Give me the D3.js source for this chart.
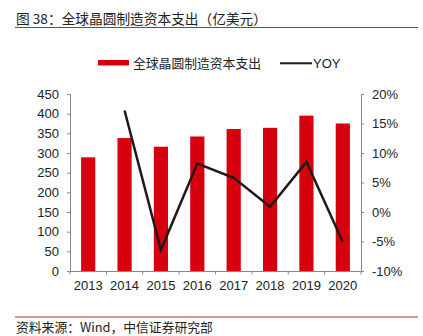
<!DOCTYPE html>
<html><head><meta charset="utf-8">
<script src="https://cdn.jsdelivr.net/npm/d3@7"></script>
<style>
html,body{margin:0;padding:0;background:#fff;}
svg text{font-family:"Liberation Sans","Noto Sans CJK SC",Arial,sans-serif;}
</style></head>
<body><svg id="c" width="423" height="336"></svg>
<script>
const years = ["2013","2014","2015","2016","2017","2018","2019","2020"];
const capex = [289, 338, 316, 342, 361, 364, 395, 375];
const yoy = [null, 17.2, -6.4, 8.2, 5.8, 0.9, 8.5, -5.1];
const leftTicks = [0,50,100,150,200,250,300,350,400,450];
const rightTicks = [-10,-5,0,5,10,15,20];

const svg = d3.select("#c");
const red = "#d7000f", dark = "#231815", cjk = '"Noto Sans CJK SC","Liberation Sans",sans-serif';

const x = d3.scaleBand().domain(years).range([70,361]).paddingInner(0.61).paddingOuter(0.305);
const xb = d3.scaleBand().domain(years).range([70,361]);
const yL = d3.scaleLinear().domain([0,450]).range([271,94]);
const yR = d3.scaleLinear().domain([-10,20]).range([271,94]);

// title
svg.append("text").attr("x",16).attr("y",24).attr("font-size",13.7).attr("fill","#222")
  .style("font-family",cjk).text("图 38：全球晶圆制造资本支出（亿美元）");
svg.append("line").attr("x1",15).attr("x2",418).attr("y1",27.5).attr("y2",27.5).attr("stroke","#c0282d").attr("stroke-width",1);

// legend
svg.append("rect").attr("x",98).attr("y",60).attr("width",31).attr("height",5.5).attr("fill",red);
svg.append("text").attr("x",133).attr("y",67.5).attr("font-size",12.8).attr("fill","#222").style("font-family",cjk).text("全球晶圆制造资本支出");
svg.append("line").attr("x1",280).attr("x2",312).attr("y1",63.3).attr("y2",63.3).attr("stroke",dark).attr("stroke-width",2);
svg.append("text").attr("x",313).attr("y",68).attr("font-size",13).attr("fill","#222").text("YOY");

// bars
svg.append("g").selectAll("rect").data(years).join("rect")
  .attr("x",d=>x(d)).attr("width",x.bandwidth())
  .attr("y",(d,i)=>yL(capex[i])).attr("height",(d,i)=>yL(0)-yL(capex[i]))
  .attr("fill",red);

// axes
const axL = svg.append("g").attr("transform","translate(70,0)")
  .call(d3.axisLeft(yL).tickValues(leftTicks).tickSize(3).tickPadding(8));
const axR = svg.append("g").attr("transform","translate(361,0)")
  .call(d3.axisRight(yR).tickValues(rightTicks).tickSize(3).tickPadding(8).tickFormat(d=>d+"%"));
const axB = svg.append("g").attr("transform","translate(0,271)")
  .call(d3.axisBottom(xb).tickSize(0).tickPadding(10));
// boundary ticks
svg.append("g").selectAll("line").data(years.concat(["end"])).join("line")
  .attr("x1",(d,i)=>70+i*xb.bandwidth()).attr("x2",(d,i)=>70+i*xb.bandwidth())
  .attr("y1",271).attr("y2",274.5).attr("stroke","#888");
[axL,axR,axB].forEach(a=>{
  a.selectAll("path.domain").attr("stroke","#888");
  a.selectAll(".tick line").attr("stroke","#888");
  a.selectAll("text").attr("font-size",13).attr("fill","#222").style("font-family",'"Liberation Sans",Arial,sans-serif');
});
axB.select("path.domain").attr("d","M70,0.5H361");

// line
const pts = years.map((d,i)=>({d,v:yoy[i]})).filter(p=>p.v!==null);
svg.append("path").datum(pts)
  .attr("d",d3.line().x(p=>xb(p.d)+xb.bandwidth()/2).y(p=>yR(p.v)))
  .attr("fill","none").attr("stroke",dark).attr("stroke-width",2.5);

// footer
svg.append("line").attr("x1",15).attr("x2",418).attr("y1",317).attr("y2",317).attr("stroke","#c0282d").attr("stroke-width",1);
svg.append("text").attr("x",16).attr("y",332).attr("font-size",12.8).attr("fill","#222").style("font-family",cjk).text("资料来源：Wind，中信证券研究部");
</script></body></html>
